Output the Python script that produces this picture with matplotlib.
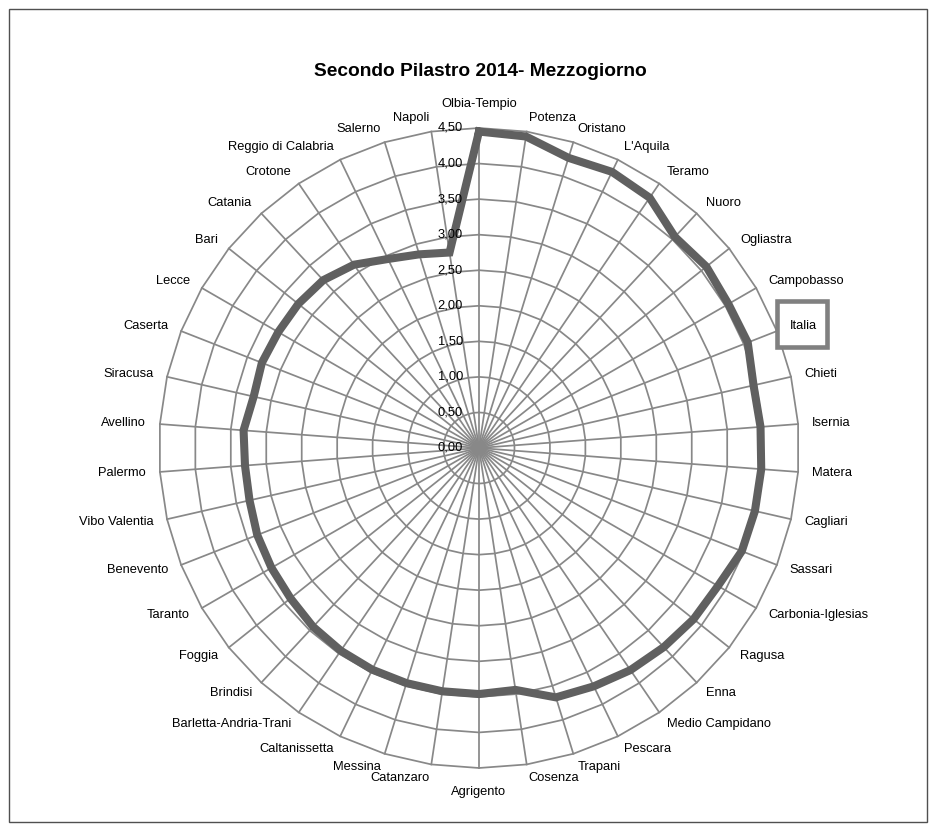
import numpy as np
import matplotlib
matplotlib.use('Agg')
import matplotlib.pyplot as plt
from matplotlib.patches import Rectangle
from matplotlib.transforms import ScaledTranslation

# province (ordine del grafico, in senso orario partendo dall'alto)
province = ['Olbia-Tempio', 'Potenza', 'Oristano', "L'Aquila", 'Teramo', 'Nuoro',
            'Ogliastra', 'Campobasso', 'Italia', 'Chieti', 'Isernia', 'Matera',
            'Cagliari', 'Sassari', 'Carbonia-Iglesias', 'Ragusa', 'Enna',
            'Medio Campidano', 'Pescara', 'Trapani', 'Cosenza', 'Agrigento',
            'Catanzaro', 'Messina', 'Caltanissetta', 'Barletta-Andria-Trani',
            'Brindisi', 'Foggia', 'Taranto', 'Benevento', 'Vibo Valentia',
            'Palermo', 'Avellino', 'Siracusa', 'Caserta', 'Lecce', 'Bari',
            'Catania', 'Crotone', 'Reggio di Calabria', 'Salerno', 'Napoli']

valori = [4.45, 4.43, 4.27, 4.31, 4.26, 4.05, 4.09, 4.05, 4.06, 3.96, 3.97, 3.98,
          3.98, 3.97, 3.88, 3.86, 3.82, 3.78, 3.72, 3.67, 3.44, 3.46,
          3.46, 3.46, 3.46, 3.45, 3.43, 3.39, 3.37, 3.35, 3.31,
          3.30, 3.32, 3.25, 3.28, 3.26, 3.25, 3.22, 3.12, 2.95, 2.85, 2.78]

livelli = [0.0, 0.5, 1.0, 1.5, 2.0, 2.5, 3.0, 3.5, 4.0, 4.5]
etichette_r = ['0,00', '0,50', '1,00', '1,50', '2,00', '2,50', '3,00', '3,50', '4,00', '4,50']

titolo = 'Secondo Pilastro 2014- Mezzogiorno'
evidenziata = 'Italia'

plt.rcParams['font.family'] = ['Liberation Sans', 'DejaVu Sans']

grigio = '#888888'
linea = '#606060'

n = len(province)
theta = np.arange(n) * 2 * np.pi / n
rmax = livelli[-1]
px = 320 / rmax  # pixel per unita'

fig = plt.figure(figsize=(9.36, 8.32), dpi=100)
fig.patch.set_facecolor('white')

# cornice esterna
fig.patches.append(Rectangle((9 / 936, 10 / 832), 918 / 936, 813 / 832,
                             transform=fig.transFigure, fill=False,
                             edgecolor='#505050', linewidth=1.0))

ax = fig.add_axes([159 / 936, 64 / 832, 640 / 936, 640 / 832], projection='polar')
ax.set_theta_zero_location('N')
ax.set_theta_direction(-1)
ax.set_ylim(0, rmax)
ax.grid(False)
ax.set_xticks([])
ax.set_yticks([])
ax.spines['polar'].set_visible(False)
ax.patch.set_alpha(0)

# griglia poligonale (stile Excel)
th_chiuso = np.append(theta, theta[0])
for lv in livelli[1:]:
    ax.plot(th_chiuso, [lv] * (n + 1), color=grigio, lw=1.25, clip_on=False, zorder=1)
for t in theta:
    ax.plot([t, t], [0, rmax], color=grigio, lw=1.25, clip_on=False, zorder=1)

# serie
ax.plot(th_chiuso, valori + [valori[0]], color=linea, lw=5.8,
        solid_joinstyle='miter', clip_on=False, zorder=3)

# etichette dell'asse radiale
for lv, lab in zip(livelli, etichette_r):
    ax.annotate(lab, xy=(0, lv), xytext=(-11.5, 0), textcoords='offset points',
                ha='right', va='center', fontsize=9.3, color='black', zorder=4)

# etichette delle categorie
for t, nome in zip(theta, province):
    s = np.sin(t)
    if abs(s) < 0.01:
        ha = 'center'
        r = rmax + 24 / px
    else:
        ha = 'left' if s > 0 else 'right'
        r = rmax + 14 / px
    ax.text(t, r, nome, ha=ha, va='center', fontsize=9.3, color='black', zorder=5)
    if nome == evidenziata:
        # riquadro grigio attorno alla voce Italia (50x46 px)
        off = ScaledTranslation(t, r, ax.transData)
        box = Rectangle((-0.13, -0.215), 0.50, 0.46,
                        transform=fig.dpi_scale_trans + off,
                        facecolor='white', edgecolor='#808080', linewidth=3.3,
                        clip_on=False, zorder=4)
        ax.add_artist(box)

fig.text(480 / 936, 1 - 72 / 832, titolo, ha='center', va='center',
         fontsize=13.8, fontweight='bold')

fig.savefig('out.png', dpi=100)
